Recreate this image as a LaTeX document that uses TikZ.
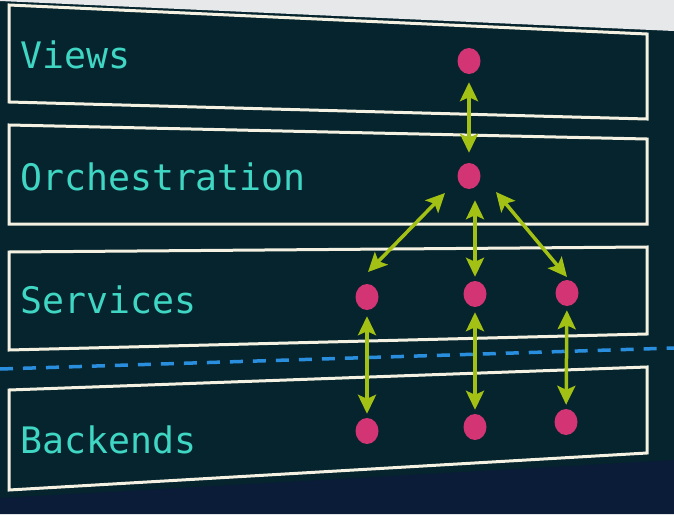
\documentclass[tikz,border=0pt]{standalone}
\usepackage{fontspec}
\newfontfamily\slidemono{DejaVu Sans Mono}
\usetikzlibrary{arrows.meta,shapes.geometric}
\definecolor{slidebg}{HTML}{05242D}
\definecolor{barbg}{HTML}{E6E8EA}
\definecolor{footbg}{HTML}{0A1C38}
\definecolor{boxline}{HTML}{F4F1E2}
\definecolor{labelteal}{HTML}{3FD6C3}
\definecolor{dotpink}{HTML}{D23474}
\definecolor{linkgreen}{HTML}{A3C014}
\definecolor{cutblue}{HTML}{2A8EDF}

\begin{document}
\begin{tikzpicture}[x=1pt, y=-1pt,
    layerbox/.style={draw=boxline, line width=3pt, line join=miter},
    layername/.style={anchor=west, text=labelteal, inner sep=0pt,
        font=\slidemono\fontsize{36.5}{36.5}\selectfont},
    dot/.style={ellipse, fill=dotpink, minimum width=23pt, minimum height=26pt, inner sep=0pt},
    link/.style={draw=linkgreen, line width=3.5pt,
        {Stealth[length=19pt,width=18pt,inset=4pt]}-{Stealth[length=19pt,width=18pt,inset=4pt]}}]
        \useasboundingbox (0, 0) rectangle (674, 514);
        \fill[slidebg] (0, 0) rectangle (674, 514);
        \fill[barbg] (0, 0) -- (674, 0) -- (674, 31) -- (0, 1) -- cycle;
        \fill[footbg] (0, 498) -- (674, 460) -- (674, 514) -- (0, 514) -- cycle;

        \draw[layerbox] (9, 5) -- (647, 34) -- (647, 119) -- (9, 102) -- cycle;
        \draw[layerbox] (9, 125) -- (647, 139) -- (647, 224) -- (9, 224) -- cycle;
        \draw[layerbox] (9, 252) -- (647, 247) -- (647, 334) -- (9, 350) -- cycle;
        \draw[layerbox] (9, 390) -- (647, 367) -- (647, 453) -- (9, 490) -- cycle;
        \draw[cutblue, line width=3.5pt, dash pattern=on 13pt off 10pt] (0, 369) -- (674, 348);

        \node[layername] (views) at (20, 55) {Views};
        \node[layername] (orchestration) at (20, 177) {Orchestration};
        \node[layername] (services) at (20, 300) {Services};
        \node[layername] (backends) at (20, 440) {Backends};

        \node[dot] (viewdot) at (469, 61) {};
        \node[dot] (orchdot) at (469, 176) {};
        \node[dot] (svcA) at (367, 297) {};
        \node[dot] (svcB) at (475, 294) {};
        \node[dot] (svcC) at (567, 293) {};
        \node[dot] (backA) at (367, 431) {};
        \node[dot] (backB) at (475, 427) {};
        \node[dot] (backC) at (566, 422) {};

        \draw[link, shorten <=8pt, shorten >=10pt] (viewdot) -- (orchdot);
        \draw[link] ([shift={(-24, 17)}]orchdot.center) -- ([shift={(1, -25)}]svcA.center);
        \draw[link, shorten <=11pt, shorten >=4pt] ([xshift=6pt]orchdot.south) -- (svcB.north);
        \draw[link] ([shift={(27, 16)}]orchdot.center) -- ([shift={(0, -16)}]svcC.center);
        \draw[link, shorten <=6pt, shorten >=4pt] (svcA) -- (backA);
        \draw[link, shorten <=5pt, shorten >=4pt] (svcB) -- (backB);
        \draw[link, shorten <=4pt, shorten >=4pt] (svcC) -- (backC);
\end{tikzpicture}
\end{document}
